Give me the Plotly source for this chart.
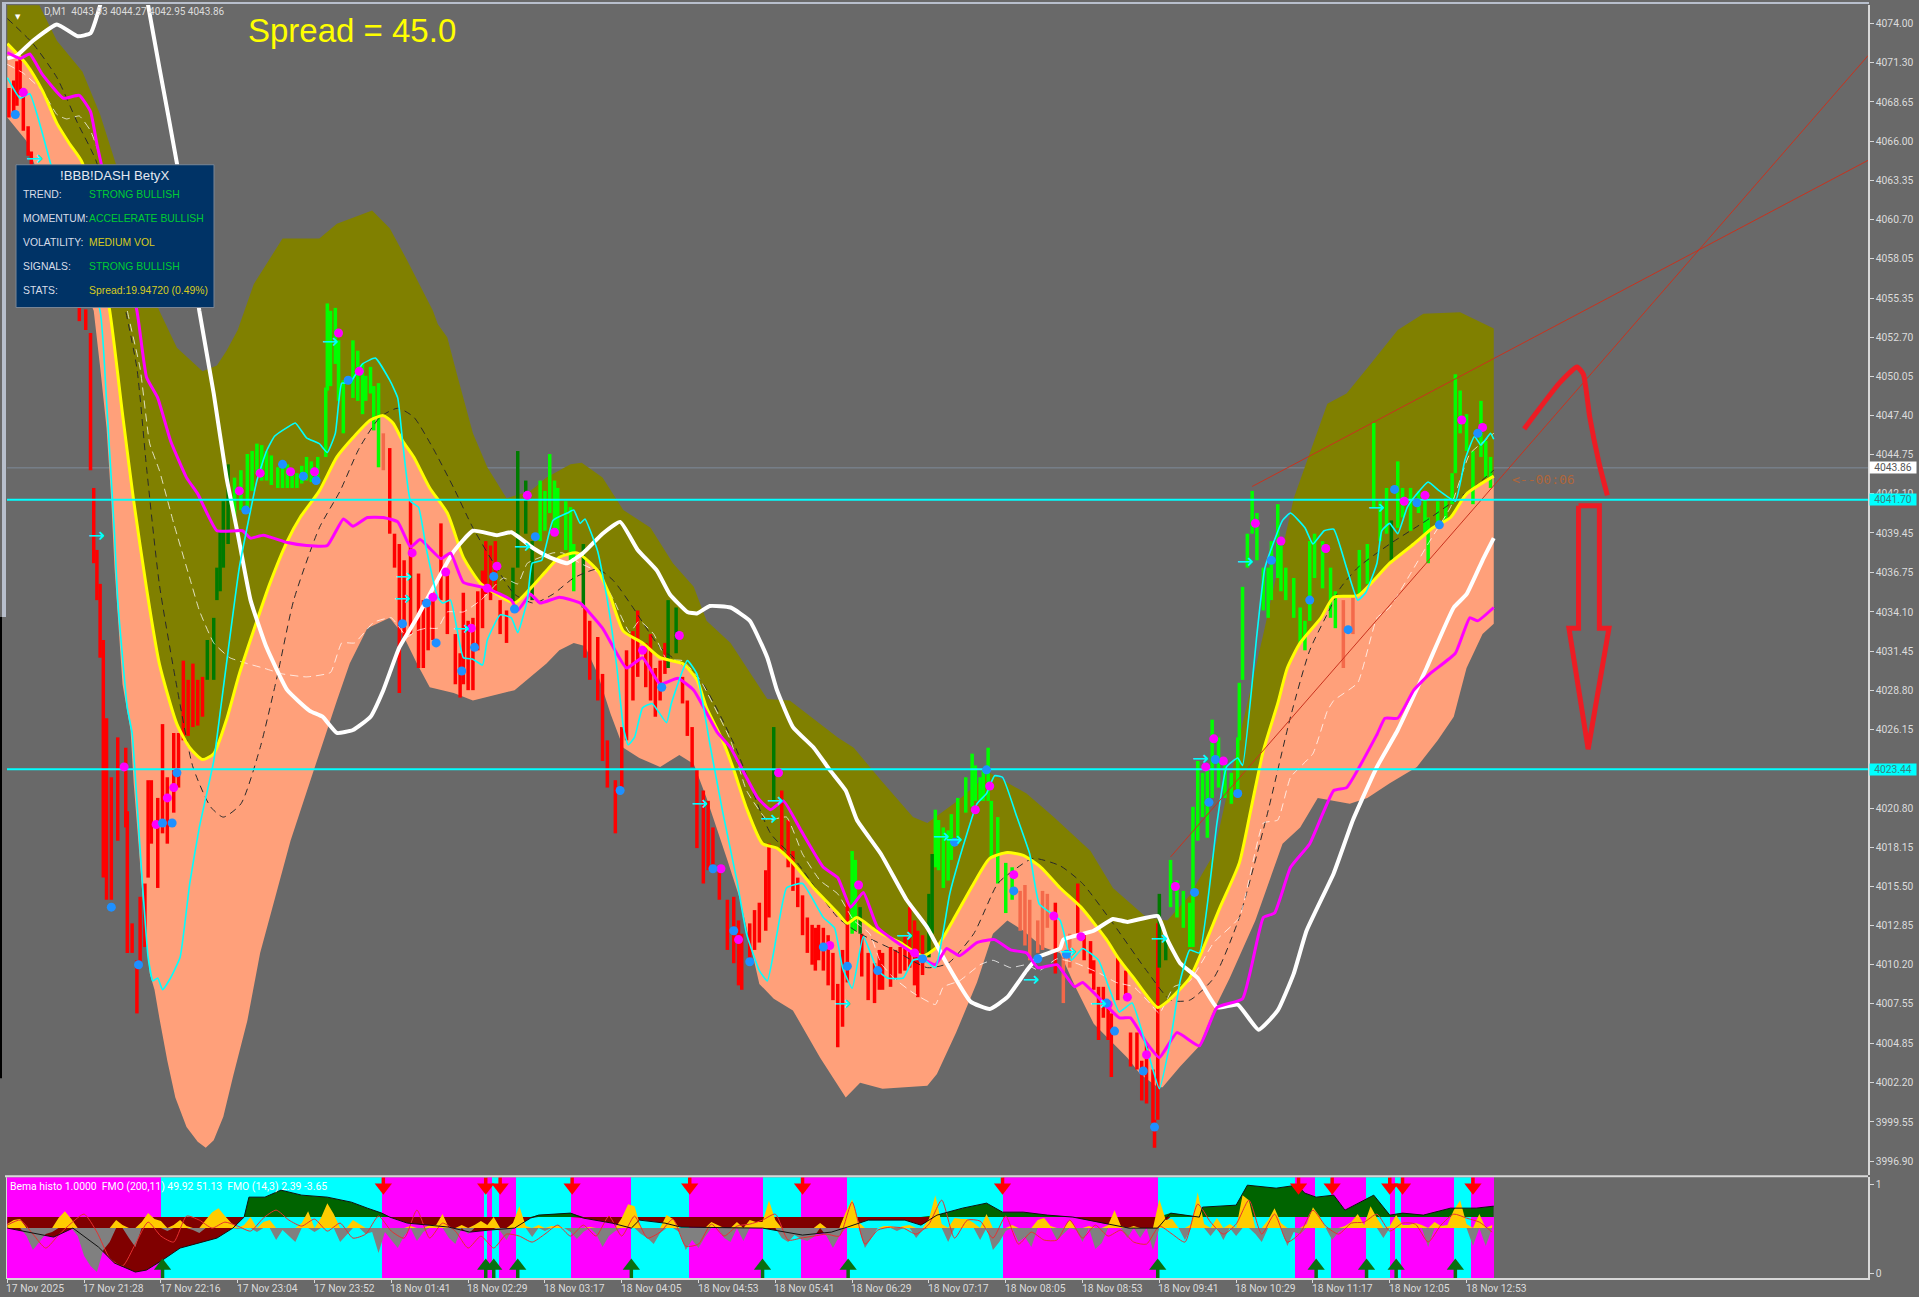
import plotly.graph_objects as go

# ---------- price axis / time axis ----------
price_ticks = [4074.00,4071.30,4068.65,4066.00,4063.35,4060.70,4058.05,4055.35,4052.70,4050.05,4047.40,4044.75,4042.10,
               4039.45,4036.75,4034.10,4031.45,4028.80,4026.15,4020.80,4018.15,4015.50,4012.85,4010.20,4007.55,4004.85,
               4002.20,3999.55,3996.90]
time_ticks = [0,48,96,144,192,240,288,336,384,432,480,528,576,624,672,720,768,816,864,912]
time_labels = ["17 Nov 2025","17 Nov 21:28","17 Nov 22:16","17 Nov 23:04","17 Nov 23:52","18 Nov 01:41","18 Nov 02:29",
               "18 Nov 03:17","18 Nov 04:05","18 Nov 04:53","18 Nov 05:41","18 Nov 06:29","18 Nov 07:17","18 Nov 08:05",
               "18 Nov 08:53","18 Nov 09:41","18 Nov 10:29","18 Nov 11:17","18 Nov 12:05","18 Nov 12:53"]
bid_level = 4043.86
level_a = 4041.70
level_b = 4023.44

# ---------- envelope: (bar, price) ----------
upper_band = [(0,4075.2),(20,4075.2),(31,4072.8),(47,4070.7),(58,4067.8),(68,4064.4),(80,4059.2),(89,4056.2),(95,4054.5),
 (106,4052.0),(122,4050.4),(131,4050.8),(137,4051.8),(144,4053.2),(154,4056.3),(172,4059.4),(195,4059.4),(206,4060.4),
 (228,4061.3),(239,4060.1),(250,4057.9),(266,4054.5),(269,4053.6),(275,4052.7),(281,4050.2),(291,4046.2),(300,4043.9),
 (312,4041.8),(327,4042.3),(337,4043.2),(352,4044.1),(359,4044.2),(372,4043.2),(385,4041.0),(402,4039.8),(416,4037.4),
 (429,4035.8),(437,4033.5),(452,4032.0),(475,4028.2),(489,4028.1),(519,4025.6),(529,4024.9),(546,4022.7),(566,4020.2),
 (575,4019.8),(594,4021.3),(614,4023.2),(637,4021.8),(654,4020.2),(677,4017.9),(691,4015.4),(712,4013.4),(725,4013.2),
 (739,4014.9),(754,4017.7),(772,4026.5),(785,4032.6),(804,4041.8),(825,4048.2),(837,4048.9),(852,4050.9),(869,4053.2),
 (885,4054.3),(908,4054.4),(929,4053.3)]
mid_band = [(0,4072.6),(12,4071.2),(22,4069.4),(31,4067.2),(39,4065.8),(47,4064.5),(64,4054.5),(72,4047.5),(79,4041.6),
 (87,4035.7),(95,4030.6),(106,4026.5),(114,4024.9),(122,4024.1),(129,4024.5),(137,4026.8),(145,4029.9),(156,4033.5),
 (164,4036.0),(175,4038.9),(183,4040.5),(195,4042.3),(206,4044.6),(216,4045.9),(227,4047.1),(235,4047.4),(241,4046.9),
 (247,4045.7),(254,4044.6),(264,4042.5),(275,4040.8),(285,4037.8),(296,4036.0),(306,4035.3),(317,4034.7),(327,4035.7),
 (337,4036.9),(345,4037.8),(356,4038.1),(369,4036.9),(377,4035.1),(385,4032.8),(397,4032.0),(408,4031.0),(422,4030.6),
 (431,4029.5),(437,4027.6),(447,4025.4),(454,4023.4),(462,4020.8),(472,4018.4),(481,4018.1),(491,4017.1),(504,4015.4),
 (519,4013.7),(525,4013.0),(531,4013.4),(543,4012.5),(558,4011.7),(572,4010.8),(581,4011.4),(591,4013.2),(604,4015.7),
 (614,4017.4),(625,4017.8),(635,4017.6),(646,4016.8),(658,4015.4),(671,4014.1),(687,4011.9),(694,4010.7),(704,4009.3),
 (719,4007.3),(725,4007.7),(739,4009.3),(747,4011.2),(758,4014.1),(770,4017.1),(777,4020.6),(785,4024.7),(794,4027.9),
 (800,4030.3),(808,4032.0),(821,4033.7),(829,4035.1),(844,4035.2),(852,4036.0),(864,4037.4),(879,4038.7),(891,4039.8),
 (902,4040.5),(912,4042.1),(929,4043.3)]
lower_band = [(0,4067.6),(12,4066.0),(16,4064.7),(33,4059.9),(54,4054.5),(58,4050.7),(62,4046.6),(65,4041.6),(67,4037.1),
 (72,4029.2),(77,4026.1),(79,4022.5),(82,4018.4),(85,4014.1),(89,4009.6),(92,4008.5),(95,4006.6),(100,4003.7),(105,4001.2),
 (112,3999.2),(119,3998.2),(124,3997.8),(129,3998.3),(135,3999.9),(141,4002.6),(150,4006.4),(158,4011.0),(169,4015.4),
 (177,4018.6),(191,4023.2),(206,4028.1),(214,4030.6),(225,4033.0),(239,4033.7),(247,4032.6),(256,4030.6),(264,4029.0),
 (279,4028.6),(291,4028.1),(317,4028.8),(337,4030.6),(345,4031.5),(354,4032.0),(361,4031.8),(369,4029.9),(377,4027.2),
 (385,4024.9),(395,4024.2),(408,4023.6),(420,4024.4),(429,4023.8),(437,4021.5),(450,4017.3),(458,4014.6),(470,4008.9),
 (479,4007.9),(491,4007.1),(508,4003.9),(524,4001.2),(533,4002.2),(547,4001.8),(575,4002.0),(581,4002.8),(593,4005.6),
 (606,4009.0),(616,4012.3),(625,4013.2),(635,4012.5),(647,4011.4),(658,4011.0),(667,4008.8),(679,4006.2),(689,4005.1),
 (700,4003.9),(708,4002.8),(719,4001.9),(722,4001.9),(733,4003.3),(745,4004.7),(754,4007.1),(764,4009.3),(780,4013.2),
 (797,4018.4),(808,4019.5),(819,4021.5),(839,4021.1),(850,4021.5),(864,4022.5),(881,4023.6),(894,4025.4),(904,4027.0),
 (912,4030.3),(922,4032.6),(929,4033.3)]

# ---------- moving averages ----------
white_ma = [(0,4071.6),(6,4071.8),(16,4072.8),(31,4073.9),(44,4073.1),(52,4073.3),(58,4075.2),(74,4084.3),(88,4075.2),(95,4071.0),
 (106,4064.5),(120,4054.5),(129,4048.9),(137,4043.2),(144,4039.4),(152,4034.9),(162,4031.7),(175,4028.8),(189,4027.4),
 (197,4027.0),(206,4025.9),(216,4026.1),(227,4027.0),(235,4028.8),(245,4031.7),(256,4033.7),(266,4035.7),(279,4038.2),
 (291,4039.6),(306,4039.3),(315,4039.5),(329,4038.4),(339,4037.8),(350,4037.4),(360,4038.1),(372,4039.4),(383,4040.2),
 (394,4038.3),(406,4036.9),(414,4035.3),(425,4034.1),(431,4034.0),(439,4034.5),(452,4034.4),(464,4033.5),(475,4031.0),
 (481,4028.8),(491,4026.3),(504,4024.9),(514,4023.4),(524,4022.0),(531,4020.0),(546,4017.7),(562,4014.6),(575,4012.7),
 (587,4010.3),(602,4007.7),(614,4007.2),(625,4008.0),(637,4009.8),(644,4010.7),(658,4011.3),(660,4011.9),(679,4012.5),
 (691,4013.3),(700,4013.1),(719,4013.5),(725,4011.9),(733,4010.3),(744,4009.3),(756,4007.3),(769,4007.5),(782,4005.8),
 (794,4007.1),(804,4009.6),(812,4012.5),(829,4016.4),(841,4020.0),(856,4023.6),(869,4026.1),(887,4030.3),(904,4034.4),
 (912,4035.3),(922,4037.6),(929,4039.1)]
magenta_ma = [(0,4072.0),(8,4071.6),(14,4071.9),(22,4070.5),(35,4068.9),(45,4069.1),(52,4068.0),(56,4065.8),(59,4064.3),
 (81,4054.5),(87,4050.0),(94,4048.6),(102,4045.7),(112,4043.2),(119,4042.1),(131,4039.6),(147,4039.6),(152,4039.1),
 (160,4039.3),(175,4038.8),(187,4038.6),(200,4038.6),(210,4040.4),(216,4039.9),(225,4040.5),(235,4040.5),(244,4040.2),
 (252,4038.5),(258,4039.0),(271,4037.7),(277,4038.1),(285,4036.1),(300,4035.7),(315,4034.9),(319,4034.2),(327,4035.3),
 (333,4034.7),(345,4035.1),(358,4034.7),(372,4033.0),(387,4030.3),(397,4031.0),(408,4029.2),(419,4029.6),(429,4028.8),
 (444,4025.9),(452,4024.9),(469,4021.5),(477,4020.7),(485,4021.3),(496,4019.3),(510,4016.8),(519,4016.1),(527,4014.1),
 (535,4015.1),(544,4012.7),(566,4011.0),(580,4010.2),(587,4011.3),(595,4010.8),(606,4011.7),(617,4011.9),(627,4011.2),
 (637,4011.0),(644,4010.0),(656,4010.2),(667,4008.7),(672,4009.0),(695,4006.6),(702,4006.6),(712,4004.9),(720,4003.9),
 (731,4005.6),(745,4004.7),(756,4007.3),(772,4007.9),(785,4013.4),(792,4013.7),(802,4016.8),(814,4018.4),(829,4022.0),
 (837,4022.2),(856,4025.8),(861,4026.9),(869,4026.9),(879,4028.8),(889,4029.9),(905,4031.3),(914,4033.7),(919,4033.5),
 (929,4034.4)]
cyan_ma = [(0,4070.3),(8,4068.9),(14,4069.2),(22,4066.5),(27,4064.5),(58,4054.5),(62,4048.4),(67,4039.4),(69,4034.9),
 (75,4027.6),(78,4025.9),(81,4021.3),(84,4016.4),(88,4010.7),(91,4009.1),(94,4009.3),(97,4008.5),(102,4009.3),(108,4010.7),
 (114,4015.7),(120,4019.5),(129,4024.0),(134,4028.1),(145,4037.1),(156,4043.0),(162,4045.0),(167,4046.0),(175,4046.6),
 (180,4046.9),(187,4045.9),(195,4045.5),(200,4044.9),(205,4046.2),(209,4049.6),(214,4049.6),(222,4050.9),(230,4051.3),
 (239,4049.8),(244,4048.6),(247,4045.7),(252,4041.6),(257,4041.2),(262,4038.3),(269,4035.1),(272,4034.7),(277,4034.9),
 (285,4031.0),(291,4030.9),(297,4030.5),(300,4032.2),(308,4033.9),(315,4033.7),(319,4032.7),(325,4034.9),(328,4037.4),
 (334,4037.6),(341,4040.3),(350,4040.8),(354,4041.0),(358,4040.1),(361,4040.4),(369,4038.2),(375,4034.9),(381,4030.3),
 (385,4026.3),(388,4025.1),(392,4025.6),(397,4027.6),(403,4027.9),(412,4026.6),(415,4027.9),(425,4030.8),(431,4029.9),
 (439,4025.2),(447,4020.6),(456,4015.9),(462,4012.3),(470,4009.8),(475,4009.1),(481,4012.3),(487,4015.4),(497,4015.7),
 (510,4013.4),(517,4012.7),(522,4010.0),(528,4008.6),(535,4012.1),(544,4009.8),(550,4009.3),(560,4009.3),(566,4010.5),
 (572,4010.6),(580,4010.0),(589,4015.0),(597,4018.1),(606,4021.1),(612,4021.8),(617,4023.0),(622,4022.9),(631,4020.2),
 (639,4017.7),(645,4014.3),(658,4013.2),(665,4010.5),(672,4011.3),(682,4010.5),(689,4008.5),(695,4007.0),(703,4007.6),
 (712,4004.6),(720,4001.8),(727,4005.1),(733,4009.1),(739,4011.2),(745,4011.0),(756,4019.8),(762,4023.6),(769,4024.2),
 (772,4023.7),(781,4032.6),(786,4037.1),(797,4040.3),(802,4040.8),(811,4039.8),(816,4038.7),(823,4039.6),(829,4039.7),
 (837,4037.1),(844,4034.9),(849,4035.4),(856,4037.4),(859,4039.6),(864,4040.1),(869,4039.4),(875,4041.2),(881,4042.1),
 (888,4042.9),(895,4042.3),(905,4041.6),(911,4044.4),(917,4046.0),(921,4045.4),(927,4046.2),(929,4045.8)]
black_ma = [(0,4074.3),(16,4072.6),(31,4070.3),(44,4067.2),(56,4064.5),(74,4054.5),(81,4050.6),(87,4043.9),(95,4036.0),
 (106,4029.0),(116,4023.6),(127,4020.9),(135,4020.2),(146,4021.1),(158,4024.9),(169,4029.9),(179,4034.9),(195,4039.8),
 (208,4042.3),(220,4045.2),(233,4047.3),(244,4047.9),(254,4047.3),(266,4045.2),(279,4042.5),(291,4039.8),(304,4037.4),
 (317,4035.3),(329,4034.7),(341,4035.3),(354,4036.4),(369,4037.0),(379,4036.2),(391,4034.4),(408,4031.7),(433,4029.5),
 (454,4025.2),(477,4019.1),(491,4017.5),(519,4013.4),(533,4012.3),(554,4011.2),(575,4010.0),(588,4010.3),(604,4012.3),
 (619,4015.7),(629,4016.6),(641,4017.4),(658,4016.9),(672,4015.7),(691,4013.0),(712,4009.8),(727,4007.8),(739,4007.8),
 (754,4009.3),(770,4013.4),(787,4020.2),(802,4027.0),(814,4031.5),(827,4034.4),(833,4035.7),(844,4037.1),(864,4038.7),
 (887,4040.3),(904,4041.6),(916,4042.5),(929,4043.7)]
pale_ma = [(0,4071.2),(10,4070.6),(22,4069.4),(31,4067.8),(37,4067.5),(45,4067.7),(52,4066.7),(58,4064.9),(75,4054.5),
 (83,4050.6),(89,4045.5),(95,4043.7),(104,4040.1),(114,4036.4),(120,4034.2),(129,4032.0),(139,4031.0),(150,4030.6),
 (160,4030.3),(172,4029.9),(187,4029.7),(202,4030.0),(209,4032.0),(217,4032.0),(229,4033.4),(240,4033.7),(250,4032.4),
 (255,4032.8),(262,4033.0),(269,4033.0),(275,4034.1),(285,4034.1),(296,4034.9),(310,4036.4),(319,4036.0),(325,4037.4),
 (341,4038.1),(347,4038.1),(358,4037.4),(369,4036.8),(379,4034.9),(389,4032.7),(395,4033.5),(404,4032.6),(412,4030.9),
 (422,4030.8),(433,4029.5),(452,4025.4),(462,4022.0),(475,4020.0),(487,4020.2),(497,4017.7),(508,4015.9),(519,4015.0),
 (529,4013.2),(539,4012.3),(546,4010.3),(554,4009.3),(566,4008.3),(580,4007.5),(585,4008.7),(595,4009.1),(608,4010.2),
 (616,4010.5),(627,4010.0),(637,4010.2),(645,4009.8),(656,4010.6),(668,4010.3),(683,4009.6),(693,4009.0),(704,4008.7),
 (714,4007.6),(720,4006.9),(729,4008.7),(739,4009.1),(754,4011.7),(770,4013.4),(785,4019.8),(794,4020.0),(802,4022.9),
 (816,4024.5),(825,4027.4),(829,4028.1),(844,4029.3),(856,4033.7),(864,4034.4),(877,4036.7),(889,4038.9),(902,4041.2),
 (914,4044.8),(929,4046.2)]

# ---------- price bars: (bar, high, low) ----------
red_bars = [(1,4069.6,4067.6),(4,4070.1,4067.7),(6,4071.4,4068.4),(8,4071.6,4069.1),(10,4069.4,4066.7),(13,4067.0,4065.0),
 (15,4065.3,4064.3),(20,4064.3,4060.6),(33,4060.6,4055.2),(45,4057.2,4053.8),(49,4054.6,4053.2),(52,4053.0,4043.7),
 (54,4042.5,4037.4),(56,4038.3,4034.9),(58,4036.0,4031.0),(60,4032.2,4016.1),(62,4026.9,4014.6),(65,4022.9,4014.6),
 (69,4025.6,4018.6),(74,4024.9,4019.5),(75,4020.6,4011.0),(78,4013.0,4011.0),(81,4010.5,4006.9),(83,4014.8,4010.0),
 (86,4015.7,4011.4),(88,4022.7,4016.1),(90,4022.7,4018.4),(94,4021.5,4015.4),(97,4026.5,4019.1),(100,4022.9,4018.4),
 (104,4025.9,4020.5),(107,4025.9,4022.2),(110,4030.8,4025.4),(113,4029.5,4025.7),(116,4030.6,4026.3),(119,4029.5,4026.4),
 (122,4029.7,4027.0),
 (239,4045.2,4039.4),(242,4039.4,4037.1),(245,4038.7,4028.6),(248,4037.6,4032.2),(252,4041.6,4032.6),(257,4036.7,4030.3),
 (260,4034.9,4030.3),(263,4034.9,4031.5),(266,4035.4,4032.2),(271,4040.1,4034.9),(275,4036.7,4032.6),(280,4032.6,4029.2),
 (283,4031.3,4028.3),(285,4035.4,4029.2),(288,4033.5,4028.8),(291,4033.7,4028.8),(294,4035.5,4031.5),(297,4036.9,4033.0),
 (299,4038.9,4035.3),(302,4038.6,4034.9),(305,4038.9,4035.3),(308,4034.9,4032.6),(312,4034.2,4032.0),
 (361,4034.4,4031.0),(364,4033.5,4029.5),(369,4032.4,4028.1),(372,4029.9,4024.0),(375,4025.4,4022.2),(380,4022.7,4019.1),
 (384,4026.3,4021.8),(387,4031.5,4025.4),(391,4032.8,4028.1),(394,4034.2,4029.7),(399,4032.0,4029.0),(402,4032.6,4028.1),
 (405,4030.3,4027.0),(408,4030.8,4028.1),(411,4032.0,4029.9),
 (422,4029.7,4027.9),(425,4028.1,4025.7),(428,4026.3,4023.6),(431,4023.4,4018.1),(435,4022.0,4015.7),(438,4021.3,4016.6),
 (441,4019.5,4016.6),(445,4016.8,4014.6),(450,4014.6,4011.2),(454,4014.8,4010.3),(457,4013.2,4008.8),(459,4012.3,4008.5),
 (464,4013.0,4010.3),(467,4013.9,4011.2),(470,4014.4,4011.7),(474,4016.6,4012.5),(476,4018.4,4013.4),(484,4022.0,4017.9),
 (488,4020.0,4016.8),(491,4017.9,4015.2),(494,4016.1,4014.1),(497,4014.9,4012.2),(500,4013.4,4011.0),(503,4012.9,4010.2),
 (505,4012.7,4009.8),(507,4012.9,4010.5),(510,4012.7,4009.8),(513,4012.2,4008.8),(516,4011.0,4007.8),(519,4008.9,4004.6),
 (522,4011.2,4006.0),(525,4014.6,4009.0),(534,4012.3,4009.4),(538,4011.0,4007.8),(542,4010.3,4007.6),(545,4011.2,4008.5),
 (547,4011.0,4008.5),(552,4011.4,4008.7),(555,4011.2,4009.2),(558,4011.4,4009.6),(561,4012.2,4009.8),(564,4014.1,4010.0),
 (567,4013.2,4008.8),(569,4012.5,4008.0),(572,4012.2,4009.5),
 (655,4014.4,4009.6),(669,4015.7,4012.3),(673,4012.3,4010.5),(677,4011.8,4009.6),(679,4010.5,4008.5),(682,4008.7,4005.1),
 (685,4008.7,4006.6),(688,4007.8,4005.1),(690,4006.9,4002.6),(694,4010.7,4007.8),(699,4009.8,4008.0),(702,4005.6,4003.3),
 (706,4005.6,4003.1),(709,4003.7,4001.0),(712,4004.9,4000.8),(716,4003.1,3999.5),(717,3999.7,3997.8),(719,4013.0,3999.7)]
faded_bars = [(235,4046.2,4043.7),(633,4015.2,4012.5),(636,4015.6,4011.5),(639,4014.6,4010.5),(644,4013.2,4011.0),
 (647,4015.2,4011.2),(650,4015.0,4012.7),(660,4010.7,4007.6),(664,4012.3,4010.0),(835,4034.9,4030.3),(841,4035.1,4032.6)]
dark_bars = [(125,4032.2,4029.5),(129,4033.7,4029.5),(131,4037.1,4034.9),(133,4039.6,4035.5),(135,4041.6,4037.1),(138,4044.1,4038.7),
 (316,4037.1,4034.7),(319,4045.0,4037.1),(324,4043.0,4039.4),(328,4038.9,4034.9),(360,4038.7,4034.4),(413,4034.9,4030.3),
 (418,4034.4,4031.3),(479,4026.3,4021.3),(533,4014.1,4012.3),(576,4015.0,4010.7),(578,4017.7,4012.3),(720,4015.0,4010.0),
 (724,4012.3,4010.5),(865,4040.3,4037.6)]
lime_bars = [(142,4043.2,4040.3),(146,4043.7,4041.0),(150,4044.8,4041.2),(153,4045.0,4042.3),(156,4045.5,4043.5),(159,4045.4,4043.0),
 (162,4045.0,4043.0),(165,4044.7,4042.7),(169,4043.9,4042.5),(172,4044.0,4042.5),(175,4044.1,4042.5),(178,4043.8,4042.5),
 (181,4043.5,4042.5),(184,4044.0,4042.8),(187,4044.6,4043.0),(190,4044.3,4042.9),(194,4044.6,4043.0),(199,4049.3,4044.6),
 (200,4055.0,4049.1),(202,4054.5,4049.4),(205,4054.7,4050.9),(207,4052.5,4048.4),(210,4049.8,4046.2),(216,4052.5,4048.6),
 (219,4051.8,4048.4),(222,4050.9,4047.5),(224,4050.1,4048.4),(227,4050.7,4048.9),(229,4049.4,4046.4),(232,4049.6,4043.9),
 (333,4043.0,4038.9),(336,4042.3,4039.6),(339,4044.8,4040.8),(342,4043.0,4039.6),(344,4042.5,4039.4),(349,4041.6,4038.3),
 (352,4041.2,4037.6),(354,4038.7,4035.5),(528,4017.9,4012.3),(530,4017.3,4012.5),(580,4020.7,4016.8),(582,4020.0,4016.6),
 (585,4019.5,4015.4),(588,4019.3,4015.9),(590,4020.4,4017.3),(594,4021.5,4018.4),(599,4022.9,4020.5),(603,4024.5,4020.9),
 (605,4023.7,4021.3),(608,4022.9,4021.3),(610,4023.4,4021.3),(613,4024.9,4021.3),(615,4021.3,4017.5),(619,4020.2,4015.7),
 (624,4017.1,4013.7),(628,4016.8,4014.6),(727,4017.3,4014.1),(731,4015.9,4013.4),(735,4015.2,4012.7),(739,4014.4,4011.4),
 (741,4020.9,4011.4),(744,4024.0,4018.6),(747,4023.2,4020.2),(750,4023.8,4018.8),(753,4026.8,4021.5),(757,4025.6,4022.2),
 (761,4024.2,4021.5),(765,4023.2,4021.1),(769,4025.6,4022.0),(770,4029.3,4025.4),(772,4035.8,4029.5),(775,4039.4,4037.1),
 (778,4042.3,4039.4),(781,4040.8,4037.6),(785,4037.1,4034.2),(788,4037.1,4033.7),(790,4038.9,4034.9),(794,4041.4,4036.4),
 (796,4038.6,4035.5),(799,4037.1,4034.9),(804,4036.4,4033.7),(808,4034.4,4032.0),(811,4033.5,4031.5),(814,4038.9,4033.5),
 (817,4039.4,4036.4),(822,4038.9,4035.7),(827,4037.1,4033.7),(830,4035.5,4033.0),(845,4038.3,4035.3),(850,4038.7,4036.0),
 (854,4046.9,4041.2),(858,4041.6,4038.9),(862,4042.5,4039.4),(869,4044.3,4039.8),(872,4042.5,4040.5),(877,4042.5,4039.6),
 (882,4042.3,4040.8),(886,4041.8,4039.4),(888,4040.5,4037.4),(894,4041.6,4040.1),(899,4041.8,4040.3),(903,4043.5,4041.4),
 (905,4050.2,4043.5),(908,4049.1,4046.2),(912,4047.5,4045.0),(916,4045.0,4041.4),(921,4048.4,4044.6),(924,4045.7,4043.2),
 (927,4044.6,4042.5)]

# ---------- signal dots and arrows: (bar, price) ----------
magenta_dots = [(10,4069.3),(73,4023.6),(100,4021.5),(104,4022.2),(93,4019.7),(145,4042.3),(158,4043.5),(177,4043.6),(192,4043.6),
 (207,4053.0),(220,4050.4),(253,4038.1),(274,4036.8),(266,4035.1),(306,4037.2),(300,4035.7),(290,4033.0),(325,4042.0),(342,4039.5),
 (397,4031.5),(420,4032.5),(446,4016.7),(457,4011.9),(482,4023.2),(514,4011.5),(532,4015.6),(567,4011.0),(605,4020.7),(614,4022.3),
 (629,4016.3),(654,4013.5),(671,4012.1),(688,4007.5),(700,4008.0),(712,4004.1),(730,4015.5),(749,4023.6),(754,4025.5),(760,4024.0),
 (780,4040.1),(796,4038.9),(824,4038.4),(873,4041.6),(886,4042.0),(909,4047.1),(922,4046.6)]
blue_dots = [(5,4067.8),(65,4014.1),(82,4010.2),(97,4019.8),(103,4019.8),(106,4023.2),(149,4041.0),(172,4044.1),(185,4043.3),(193,4043.0),
 (213,4049.8),(247,4033.3),(262,4034.7),(268,4032.0),(284,4030.1),(292,4031.7),(304,4036.5),(317,4034.3),(330,4039.2),(409,4029.0),
 (383,4022.0),(441,4016.7),(454,4012.5),(464,4010.4),(510,4011.4),(525,4010.1),(544,4009.8),(572,4010.6),(592,4018.5),(612,4023.4),
 (629,4015.2),(644,4010.6),(662,4010.9),(687,4007.6),(692,4005.7),(710,4003.0),(717,3999.2),(742,4015.1),(751,4021.2),(755,4024.1),
 (769,4021.8),(790,4037.6),(814,4034.9),(838,4032.9),(867,4042.4),(881,4041.5),(895,4040.0),(919,4046.2)]
cyan_arrows = [(17,4064.7),(56,4039.2),(202,4052.3),(248,4036.4),(247,4034.9),(284,4032.9),(322,4038.4),(433,4021.0),(480,4021.2),
 (476,4020.0),(522,4007.5),(561,4012.1),(584,4018.8),(592,4018.6),(640,4009.1),(663,4011.0),(682,4007.5),(720,4011.9),(746,4024.1),
 (774,4037.4),(856,4041.1)]

# ---------- trend lines and hand-drawn marks: (bar, price) ----------
trend_one = [(778,4042.6),(1163,4064.7)]
trend_two = [(727,4017.5),(1163,4071.8)]
drawn_stroke = [(948,4046.5),(970,4049.6),(981,4050.7),(985,4050.2),(989,4047.3),(995,4044.1),(1000,4042.0)]
drawn_arrow = [(982,4041.3),(995,4041.3),(995,4033.0),(1001,4033.0),(988,4024.8),(976,4033.0),(982,4033.0),(982,4041.3)]

# ---------- lower panel ----------
regime_edges = [0,96,234.4,298,299.5,303,307.4,318,352,390,426,472,496,525,622,719,805,817,827,849,864,867,871,904,915,929]
fmo200 = [(0,0),(29,-9),(41,0),(57,-19),(67,-35),(80,-44),(87,-42),(97,-32),(108,-20),(120,-15),(131,-10),(141,0),(148,11),(151,31),
 (161,31),(171,38),(184,33),(200,31),(215,26),(225,20),(234,15),(239,11),(250,5),(276,1),(289,-4),(301,-2),(317,0),(327,10),(332,13),
 (352,15),(360,10),(378,5),(390,0),(395,8),(411,5),(421,1),(454,0),(472,0),(497,-7),(515,-4),(525,1),(538,8),(561,8),(571,3),(581,13),
 (597,20),(612,25),(622,16),(635,16),(650,13),(666,11),(684,5),(701,0),(719,0),(727,15),(745,11),(747,21),(768,23),(775,43),(793,40),
 (806,43),(811,35),(818,31),(829,33),(836,18),(854,33),(864,13),(872,15),(885,13),(902,20),(918,20),(929,22)]
fmo14_step = 4
fmo14 = [4,8,9,-8,-22,-14,-6,-4,10,17,9,-8,-28,-38,-44,-22,-14,8,3,-10,-19,6,15,9,7,-3,3,8,2,-2,-5,8,16,20,12,5,-1,3,11,-4,6,8,-12,-2,
 -8,-14,5,17,-4,10,25,14,-14,-7,8,4,-6,-4,-25,-4,-12,-20,-8,2,-13,-4,3,3,14,-10,-16,3,-6,3,7,3,11,-3,-12,5,22,2,-9,3,-3,2,2,0,-4,-11,
 -4,1,-6,-19,-8,-3,10,24,22,
 -6,-10,-16,-5,13,9,-4,-22,-12,-20,-9,6,3,-10,-14,6,-13,8,6,6,28,8,-10,-14,-7,-11,-13,-9,5,-8,-20,-8,16,29,6,-20,-10,0,2,2,-3,2,3,-10,
 -2,9,33,4,-14,10,9,9,5,-12,14,-22,-14,-3,3,-14,-9,-19,8,10,2,-12,-6,8,-2,-14,2,-21,-15,3,18,2,-10,2,-10,0,-22,29,8,9,0,-12,4,36,4,-8,
 10,-12,4,-8,33,28,-6,-14,8,20,
 5,-18,-4,-6,4,21,12,0,-12,-4,2,6,14,3,22,10,-10,2,13,3,3,5,3,-19,6,2,3,18,28,4,-18,14,-18,3]
fmo14_line_step = 8
fmo14_line = [3,8,-6,-20,-7,5,14,-4,-30,-38,-16,6,-8,-14,12,8,0,6,2,-3,10,18,8,2,9,-3,5,-10,-6,12,-3,-10,18,-10,5,-3,-20,-8,-20,-6,-8,
 -14,-6,3,-8,3,-8,12,-8,12,-10,-4,9,-18,-16,4,-8,2,4,8,14,-12,-10,-8,-6,-8,26,-16,-2,1,0,-6,4,28,-10,8,7,-10,12,-16,-4,-12,-12,8,-10,3,
 -8,-2,-14,-16,2,-6,-14,24,6,-6,4,28,-6,14,-14,-5,18,2,-6,5,6,14,-3,5,4,-14,3,14,10,6,-4]
sell_marks = [235,299,308,353,426.5,497,622,807,828,864,872,916]
buy_marks = [97,299,304,319,390,472,525.5,719,818,849.5,868,905]
sell_head, sell_top = 41, 51
buy_head, buy_bottom = -38, -50

# ---------- panel texts ----------
spread_text = "Spread = 45.0"
header_text = "D,M1  4043.93 4044.27 4042.95 4043.86"
sub_text = "Bema histo 1.0000  FMO (200,11) 49.92 51.13  FMO (14,3) 2.39 -3.65"
dash_title = "!BBB!DASH BetyX"
dash_rows = [("TREND:","STRONG BULLISH","#00cc33"),("MOMENTUM:","ACCELERATE BULLISH","#00cc33"),("VOLATILITY:","MEDIUM VOL","#d8cc20"),
             ("SIGNALS:","STRONG BULLISH","#00cc33"),("STATS:","Spread:19.94720 (0.49%)","#d8cc20")]
timer_text = "<--00:06"

W, H = 1919, 1297
BG = "#696969"
def px(x): return x / W
def py(y): return 1 - y / H
XMIN, XMAX = -0.2, 1162.9

def xs(rows): return [r[0] for r in rows]
def ys(rows): return [r[1] for r in rows]
def wicks(rows):
    X, Y = [], []
    for b, hi, lo in rows:
        X += [b, b, None]; Y += [hi, lo, None]
    return X, Y

fig = go.Figure()
def line(rows, color, width, dash=None, shape="linear", smooth=0.6):
    fig.add_trace(go.Scatter(x=xs(rows), y=ys(rows), mode="lines", hoverinfo="skip",
                             line=dict(color=color, width=width, dash=dash, shape=shape, smoothing=smooth)))

# current-price line sits behind the bands
line([(XMIN, bid_level), (XMAX, bid_level)], "#7d8a9a", 1)

# bands
fig.add_trace(go.Scatter(x=xs(upper_band)+xs(mid_band)[::-1], y=ys(upper_band)+ys(mid_band)[::-1], fill="toself",
                         fillcolor="#808000", mode="none", hoverinfo="skip"))
fig.add_trace(go.Scatter(x=xs(mid_band)+xs(lower_band)[::-1], y=ys(mid_band)+ys(lower_band)[::-1], fill="toself",
                         fillcolor="#FFA07A", mode="none", hoverinfo="skip"))
# bars
for rows, col, w in [(faded_bars, "#f4694a", 3.5), (red_bars, "#ff0000", 3.5), (lime_bars, "#00ff00", 3.5), (dark_bars, "#007a00", 3.5)]:
    X, Y = wicks(rows)
    fig.add_trace(go.Scatter(x=X, y=Y, mode="lines", line=dict(color=col, width=w), hoverinfo="skip"))

line(black_ma, "#2a2a2a", 1, "7px,5px", "spline")
line(pale_ma, "rgba(255,255,255,0.75)", 1, "8px,5px", "spline", 0.4)
line(mid_band, "#ffff00", 3, None, "spline")
line(white_ma, "#ffffff", 4, None, "spline", 0.4)
line(magenta_ma, "#ff00ff", 3, None, "spline", 0.4)
line(cyan_ma, "#00ffff", 1.6, None, "spline", 0.4)
line(trend_one, "#c8321e", 1)
line(trend_two, "#c8321e", 1)
line([(XMIN, level_a), (XMAX, level_a)], "#00ffff", 2)
line([(XMIN, level_b), (XMAX, level_b)], "#00ffff", 2)
fig.add_trace(go.Scatter(x=xs(magenta_dots), y=ys(magenta_dots), mode="markers", marker=dict(color="#ff00ff", size=9), hoverinfo="skip"))
fig.add_trace(go.Scatter(x=xs(blue_dots), y=ys(blue_dots), mode="markers", marker=dict(color="#1e90ff", size=9), hoverinfo="skip"))
fig.add_trace(go.Scatter(x=xs(cyan_arrows), y=ys(cyan_arrows), mode="text", text=["→"]*len(cyan_arrows), hoverinfo="skip",
                         textfont=dict(color="#00ffff", size=20, family="DejaVu Sans")))
line(drawn_stroke, "#ed1c24", 5, None, "spline", 0.5)
line(drawn_arrow, "#ed1c24", 5)

# ---------- lower panel ----------
seg_x = [(a+b)/2 for a, b in zip(regime_edges[:-1], regime_edges[1:])]
seg_w = [b-a for a, b in zip(regime_edges[:-1], regime_edges[1:])]
seg_c = ["#ff00ff" if i % 2 == 0 else "#00ffff" for i in range(len(seg_x))]
fig.add_trace(go.Bar(x=seg_x, y=[1.135]*len(seg_x), base=[-0.0562]*len(seg_x), width=seg_w, marker=dict(color=seg_c, line=dict(width=0)),
                     xaxis="x2", yaxis="y2", hoverinfo="skip"))
LEVEL = 11
fx = xs(fmo200); fv = ys(fmo200)
fig.add_trace(go.Scatter(x=fx+fx[::-1], y=[min(v, LEVEL) for v in fv]+[LEVEL]*len(fx), fill="toself", fillcolor="#800000", mode="none",
                         xaxis="x2", yaxis="y3", hoverinfo="skip"))
fig.add_trace(go.Scatter(x=fx+fx[::-1], y=[max(v, LEVEL) for v in fv]+[LEVEL]*len(fx), fill="toself", fillcolor="#006400", mode="none",
                         xaxis="x2", yaxis="y3", hoverinfo="skip"))
hx = [i*fmo14_step for i in range(len(fmo14))]
fig.add_trace(go.Scatter(x=hx, y=[min(v, 0) for v in fmo14], fill="tozeroy", fillcolor="#808080", mode="none",
                         xaxis="x2", yaxis="y3", hoverinfo="skip"))
fig.add_trace(go.Scatter(x=hx, y=[max(v, 0) for v in fmo14], fill="tozeroy", fillcolor="#ffcc00", mode="none",
                         xaxis="x2", yaxis="y3", hoverinfo="skip"))
fig.add_trace(go.Scatter(x=[i*fmo14_line_step for i in range(len(fmo14_line))], y=fmo14_line, mode="lines",
                         line=dict(color="#e53030", width=1, shape="spline", smoothing=0.6), xaxis="x2", yaxis="y3", hoverinfo="skip"))
fig.add_trace(go.Scatter(x=fx, y=fv, mode="lines", line=dict(color="#101010", width=1), xaxis="x2", yaxis="y3", hoverinfo="skip"))
def stems(marks, a, b, col, sym):
    X, Y = [], []
    for m in marks:
        X += [m, m, None]; Y += [a, b, None]
    fig.add_trace(go.Scatter(x=X, y=Y, mode="lines", line=dict(color=col, width=3.5), xaxis="x2", yaxis="y3", hoverinfo="skip"))
    fig.add_trace(go.Scatter(x=marks, y=[b]*len(marks), mode="markers", marker=dict(symbol=sym, color=col, size=15, line=dict(width=0)),
                             xaxis="x2", yaxis="y3", hoverinfo="skip"))
stems(sell_marks, sell_top, sell_head, "#ff0000", "triangle-down")
stems(buy_marks, buy_bottom, buy_head, "#0a6e10", "triangle-up")

# ---------- shapes ----------
AX = "#d8d8d8"
shapes = [
    dict(type="rect", xref="paper", yref="paper", x0=px(2), x1=px(6), y0=py(618), y1=py(3), fillcolor="#b8bfcc", line=dict(width=0)),
    dict(type="rect", xref="paper", yref="paper", x0=0, x1=px(2), y0=py(1080), y1=py(618), fillcolor="#000000", line=dict(width=0)),
    dict(type="rect", xref="paper", yref="paper", x0=px(2), x1=px(1869), y0=py(4), y1=py(2), fillcolor="#b8bfcc", line=dict(width=0)),
    dict(type="rect", xref="paper", yref="paper", x0=px(5), x1=px(1868), y0=py(1179), y1=py(1177), fillcolor=AX, line=dict(width=0)),
    dict(type="rect", xref="paper", yref="paper", x0=px(6), x1=px(7), y0=py(1281), y1=py(1179), fillcolor=AX, line=dict(width=0)),
    dict(type="rect", xref="paper", yref="paper", x0=px(16), x1=px(214), y0=py(308), y1=py(165), fillcolor="#003366", line=dict(color="#7a8796", width=1)),
]

# ---------- texts ----------
ann = []
def note(x, y, text, size, color, family="Roboto", anchor="left", **kw):
    ann.append(dict(xref="paper", yref="paper", x=px(x), y=py(y), text=text, showarrow=False, xanchor=anchor, yanchor="middle",
                    font=dict(size=size, color=color, family=family), **kw))
note(246, 31, spread_text, 33, "#ffff00", "Liberation Sans")
note(42, 12, header_text, 10, "#dcdcdc")
note(8, 1188, sub_text, 10.4, "#ffffff")
note(114, 176, dash_title, 13.2, "#e4e8f0", "Liberation Sans", anchor="center")
for i, (lab, val, col) in enumerate(dash_rows):
    yy = 195 + 24*i
    note(20.5, yy, lab, 10.4, "#d8dde8", "Liberation Sans")
    note(86.5, yy, val, 10.4, col, "Liberation Sans")
note(1510, 480, timer_text, 13, "#b0663a", "DejaVu Sans Mono")
ann.append(dict(xref="paper", yref="paper", x=px(13), y=py(11), text="▼", showarrow=False, font=dict(size=7, color="#ffffff", family="DejaVu Sans")))
for b, t in zip(time_ticks, time_labels):
    ann.append(dict(xref="x2", yref="paper", x=b, y=py(1290), text=t, showarrow=False, xanchor="left", yanchor="middle", xshift=-3,
                    font=dict(size=10.3, color="#dcdcdc", family="Roboto")))
for lvl, txt, bg, fg in [(bid_level, "4043.86", "#ffffff", "#555555"), (level_a, "4041.70", "#00ffff", "#3a7f80"), (level_b, "4023.44", "#00ffff", "#3a7f80")]:
    ann.append(dict(xref="paper", yref="y", x=px(1869), y=lvl, text=txt, showarrow=False, xanchor="left", yanchor="middle", width=46, height=11,
                    bgcolor=bg, borderpad=0, align="center", font=dict(size=10.3, color=fg, family="Roboto")))

tickfont = dict(size=10.3, color="#dcdcdc", family="Roboto")
fig.update_layout(
    width=W, height=H, autosize=False, margin=dict(l=0, r=0, t=0, b=0), showlegend=False, barmode="overlay", bargap=0,
    paper_bgcolor=BG, plot_bgcolor=BG, shapes=shapes, annotations=ann,
    xaxis=dict(domain=[px(7), px(1868)], range=[XMIN, XMAX], anchor="y", showgrid=False, zeroline=False, showticklabels=False, ticks=""),
    yaxis=dict(domain=[py(1177), py(5)], range=[3995.94, 4075.22], side="right", anchor="x", showgrid=False, zeroline=False, tickmode="array",
               tickvals=price_ticks, ticktext=[f"{p:.2f}" for p in price_ticks], ticks="outside", ticklen=4, tickcolor=AX, tickfont=tickfont,
               showline=True, linecolor=AX, linewidth=1.5),
    xaxis2=dict(domain=[px(7), px(1868)], range=[XMIN, XMAX], anchor="y2", showgrid=False, zeroline=False, showticklabels=False, tickmode="array",
                tickvals=time_ticks, ticks="outside", ticklen=3, tickcolor=AX, showline=True, linecolor=AX, linewidth=1.5),
    yaxis2=dict(domain=[py(1280), py(1179)], range=[-0.0562, 1.0787], side="right", anchor="x2", showgrid=False, zeroline=False, tickmode="array",
                tickvals=[0, 1], ticktext=["0", "1"], ticks="outside", ticklen=4, tickcolor=AX, tickfont=tickfont, showline=True, linecolor=AX, linewidth=1.5),
    yaxis3=dict(domain=[py(1280), py(1179)], range=[-50, 51], overlaying="y2", anchor="x2", visible=False),
)
fig.write_html("out.html", config=dict(displayModeBar=False),
               post_script="document.body.style.margin='0';document.body.style.overflow='hidden';document.body.style.background='#696969';")
